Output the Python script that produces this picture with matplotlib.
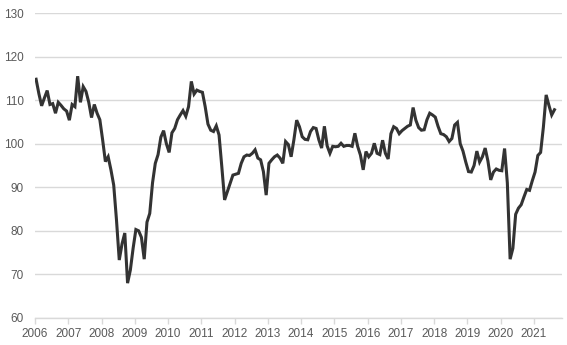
import numpy as np
import matplotlib.pyplot as plt

plt.rcParams['font.family'] = ['Liberation Sans', 'DejaVu Sans']

# monthly index, Jan 2006 - Aug 2021
values = [
    114.8, 111.5, 108.7, 110.5, 112.2, 109.0, 109.2, 107.0, 109.5, 108.8, 108.0, 107.5,  # 2006
    105.4, 109.0, 108.5, 115.5, 109.5, 113.1, 112.0, 109.5, 106.0, 109.0, 107.0, 105.5,  # 2007
    100.9, 95.9, 97.0, 94.0, 90.5, 82.5, 73.3, 77.0, 79.5, 68.0, 71.0, 76.0,  # 2008
    80.3, 80.0, 78.5, 73.5, 82.0, 84.0, 91.0, 95.5, 97.5, 101.5, 103.0, 100.0,  # 2009
    98.0, 102.5, 103.5, 105.5, 106.6, 107.6, 106.3, 108.5, 114.3, 111.4, 112.3, 112.0,  # 2010
    111.8, 108.5, 104.5, 103.1, 102.8, 104.1, 102.0, 94.7, 87.1, 89.0, 90.9, 92.8,  # 2011
    93.0, 93.2, 95.5, 97.0, 97.4, 97.3, 97.8, 98.6, 96.7, 96.3, 93.6, 88.2,  # 2012
    95.5, 96.3, 97.0, 97.4, 96.7, 95.5, 100.5, 99.8, 97.0, 100.9, 105.4, 103.9,  # 2013
    101.6, 101.0, 100.9, 102.8, 103.7, 103.5, 100.9, 99.0, 104.0, 99.5, 97.8, 99.4,  # 2014
    99.3, 99.4, 100.1, 99.4, 99.6, 99.6, 99.4, 102.4, 99.4, 97.4, 94.0, 98.2,  # 2015
    97.0, 97.8, 100.1, 97.8, 97.5, 100.8, 97.8, 96.5, 102.3, 103.9, 103.5, 102.3,  # 2016
    103.0, 103.5, 104.0, 104.3, 108.3, 105.4, 103.7, 103.1, 103.2, 105.5, 107.0, 106.6,  # 2017
    106.1, 104.0, 102.3, 102.1, 101.6, 100.5, 101.2, 104.3, 104.9, 100.0, 98.3, 95.8,  # 2018
    93.6, 93.5, 95.0, 98.3, 95.8, 97.0, 99.0, 96.0, 91.7, 93.5, 94.2, 93.9,  # 2019
    93.8, 98.9, 91.0, 73.5, 76.0, 83.8, 85.2, 86.0, 87.8, 89.5, 89.3, 91.5,  # 2020
    93.5, 97.3, 98.0, 103.8, 111.2, 108.8, 106.6, 107.8,  # 2021
]
years = list(range(2006, 2022))
y_ticks = [60, 70, 80, 90, 100, 110, 120, 130]

# mid-month positions on a fractional-year axis
t = 2006 + (np.arange(len(values)) + 0.4) / 12

fig = plt.figure(figsize=(5.67, 3.45), dpi=100)
ax = fig.add_axes([0.0617, 0.0783, 0.9293, 0.884])

grid_c = '#d9d9d9'
text_c = '#595959'

ax.plot(t, values, color='#333333', lw=2.2, solid_joinstyle='miter', zorder=3)

ax.set_ylim(60, 130)
ax.set_xlim(2006, 2021.84)
ax.set_yticks(y_ticks)
ax.set_xticks(years)
ax.set_xticklabels([str(y) for y in years])
ax.yaxis.grid(True, color=grid_c, lw=1.0)
ax.set_axisbelow(True)

for s in ['top', 'right', 'left']:
    ax.spines[s].set_visible(False)
ax.spines['bottom'].set_color(grid_c)
ax.spines['bottom'].set_linewidth(1.0)

ax.tick_params(axis='y', length=0, pad=8, labelsize=8.5, labelcolor=text_c)
ax.tick_params(axis='x', length=4, width=1.0, color=grid_c, pad=3,
               labelsize=8.5, labelcolor=text_c)

fig.savefig('out.png', dpi=100)
